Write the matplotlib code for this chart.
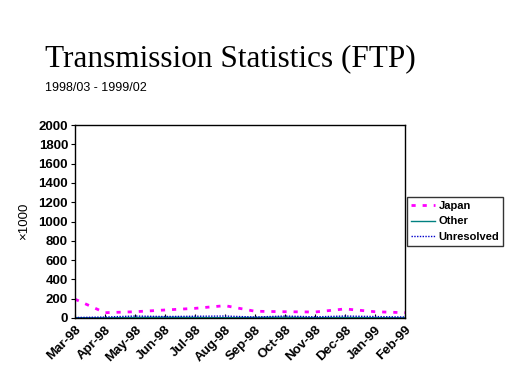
import matplotlib
matplotlib.use("Agg")
import matplotlib.pyplot as plt
import numpy as np

months = ["Mar-98", "Apr-98", "May-98", "Jun-98", "Jul-98", "Aug-98",
          "Sep-98", "Oct-98", "Nov-98", "Dec-98", "Jan-99", "Feb-99"]
japan = [195, 55, 65, 83, 100, 128, 70, 65, 62, 94, 65, 55]
other = [3, 2, 5, 8, 5, 3, 6, 8, 3, 5, 3, 2]
unresolved = [5, 10, 20, 15, 18, 20, 10, 20, 12, 20, 15, 10]
yticks = [0, 200, 400, 600, 800, 1000, 1200, 1400, 1600, 1800, 2000]

fig = plt.figure(figsize=(5.12, 3.84), dpi=100)
ax = fig.add_axes([75/512, 66/384, 330/512, 193/384])
x = np.arange(len(months))
ax.plot(x, japan, color="#ff00ff", linestyle=(0, (1.5, 2.5)), linewidth=2.0, label="Japan")
ax.plot(x, other, color="#008080", linestyle="-", linewidth=1.0, label="Other")
ax.plot(x, unresolved, color="#0000cc", linestyle=(0, (1, 1)), linewidth=1.0, label="Unresolved")

ax.set_xlim(0, len(months) - 1)
ax.set_ylim(0, 2000)
ax.set_yticks(yticks)
ax.set_yticklabels([str(v) for v in yticks], fontweight="bold", fontsize=9.5, family="Liberation Sans")
ax.set_xticks(x)
ax.set_xticklabels(months, rotation=45, ha="right", va="top", rotation_mode="anchor",
                   fontsize=9.5, fontweight="bold", family="Liberation Sans")
ax.tick_params(axis="y", length=3, direction="out", pad=2)
ax.tick_params(axis="x", length=3, direction="in", pad=4)
for s in ax.spines.values():
    s.set_linewidth(1.0)
    s.set_color("black")
ax.set_ylabel("×1000", fontsize=9.5, family="Liberation Sans", labelpad=6)

fig.text(45/512, 1 - 66/384, "Transmission Statistics (FTP)", fontsize=22.5,
         family="Liberation Serif", ha="left", va="baseline")
fig.text(45/512, 1 - 91/384, "1998/03 - 1999/02", fontsize=9,
         family="Liberation Sans", ha="left", va="baseline")

leg = fig.legend(loc="upper left", bbox_to_anchor=(407/512, 1 - 197/384),
                 prop={"family": "Liberation Sans", "size": 8, "weight": "bold"},
                 frameon=True, fancybox=False, edgecolor="black", handlelength=2.2,
                 handletextpad=0.3, borderpad=0.35, labelspacing=0.5, borderaxespad=0)
leg.get_frame().set_linewidth(1.0)

fig.savefig("out.png", dpi=100)
